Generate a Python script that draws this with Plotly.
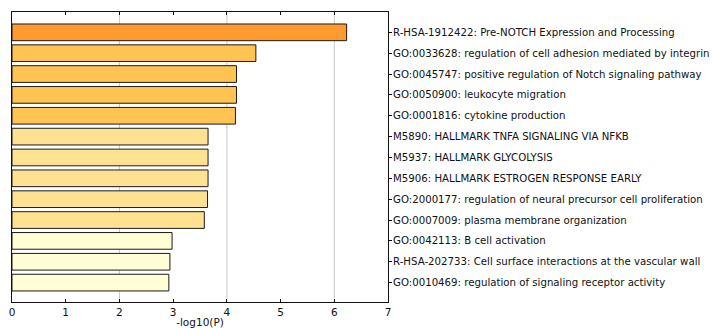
import plotly.graph_objects as go

terms = [
    "R-HSA-1912422: Pre-NOTCH Expression and Processing",
    "GO:0033628: regulation of cell adhesion mediated by integrin",
    "GO:0045747: positive regulation of Notch signaling pathway",
    "GO:0050900: leukocyte migration",
    "GO:0001816: cytokine production",
    "M5890: HALLMARK TNFA SIGNALING VIA NFKB",
    "M5937: HALLMARK GLYCOLYSIS",
    "M5906: HALLMARK ESTROGEN RESPONSE EARLY",
    "GO:2000177: regulation of neural precursor cell proliferation",
    "GO:0007009: plasma membrane organization",
    "GO:0042113: B cell activation",
    "R-HSA-202733: Cell surface interactions at the vascular wall",
    "GO:0010469: regulation of signaling receptor activity",
]
neg_log_p = [6.23, 4.54, 4.18, 4.18, 4.16, 3.65, 3.65, 3.65, 3.64, 3.58, 2.98, 2.94, 2.92]
bar_colors = (["#FF9A2E"] + ["#FFC352"] * 4 + ["#FFE291"] * 5 + ["#FFFED4"] * 3)
x_ticks = [0, 1, 2, 3, 4, 5, 6, 7]
grid_values = [2, 4, 6]

idx = list(range(len(terms)))

fig = go.Figure()
fig.add_trace(go.Bar(
    x=neg_log_p, y=idx, orientation="h", width=0.8,
    marker=dict(color=bar_colors, line=dict(color="#1a1a1a", width=1)),
    hoverinfo="x+text", text=terms, textposition="none",
))

for g in grid_values:
    fig.add_shape(type="line", x0=g, x1=g, y0=0, y1=1, yref="paper",
                  line=dict(color="#C8C8C8", width=1), layer="below")

fig.update_layout(
    width=712, height=328,
    margin=dict(l=12, r=324, t=12, b=26),
    paper_bgcolor="white", plot_bgcolor="white",
    font=dict(family="DejaVu Sans", size=10.2, color="#111"),
    showlegend=False,
    bargap=0.2,
)
fig.update_xaxes(
    range=[0, 7], tickvals=x_ticks, ticks="inside", ticklen=3, tickcolor="#111",
    showline=True, linecolor="#111", linewidth=1, mirror="ticks",
    showgrid=False, zeroline=False, automargin=False,
    title=dict(text="-log10(P)", standoff=0, font=dict(size=10.5)),
    tickfont=dict(size=10.5),
)
fig.update_yaxes(
    range=[12.93, -0.975], side="right", tickvals=idx, ticktext=terms,
    ticks="outside", ticklen=3, tickcolor="#111", ticklabelstandoff=-1,
    showline=True, linecolor="#111", linewidth=1, mirror=True,
    showgrid=False, zeroline=False, automargin=False, tickfont=dict(size=10.2),
)

fig.write_html("out.html")
